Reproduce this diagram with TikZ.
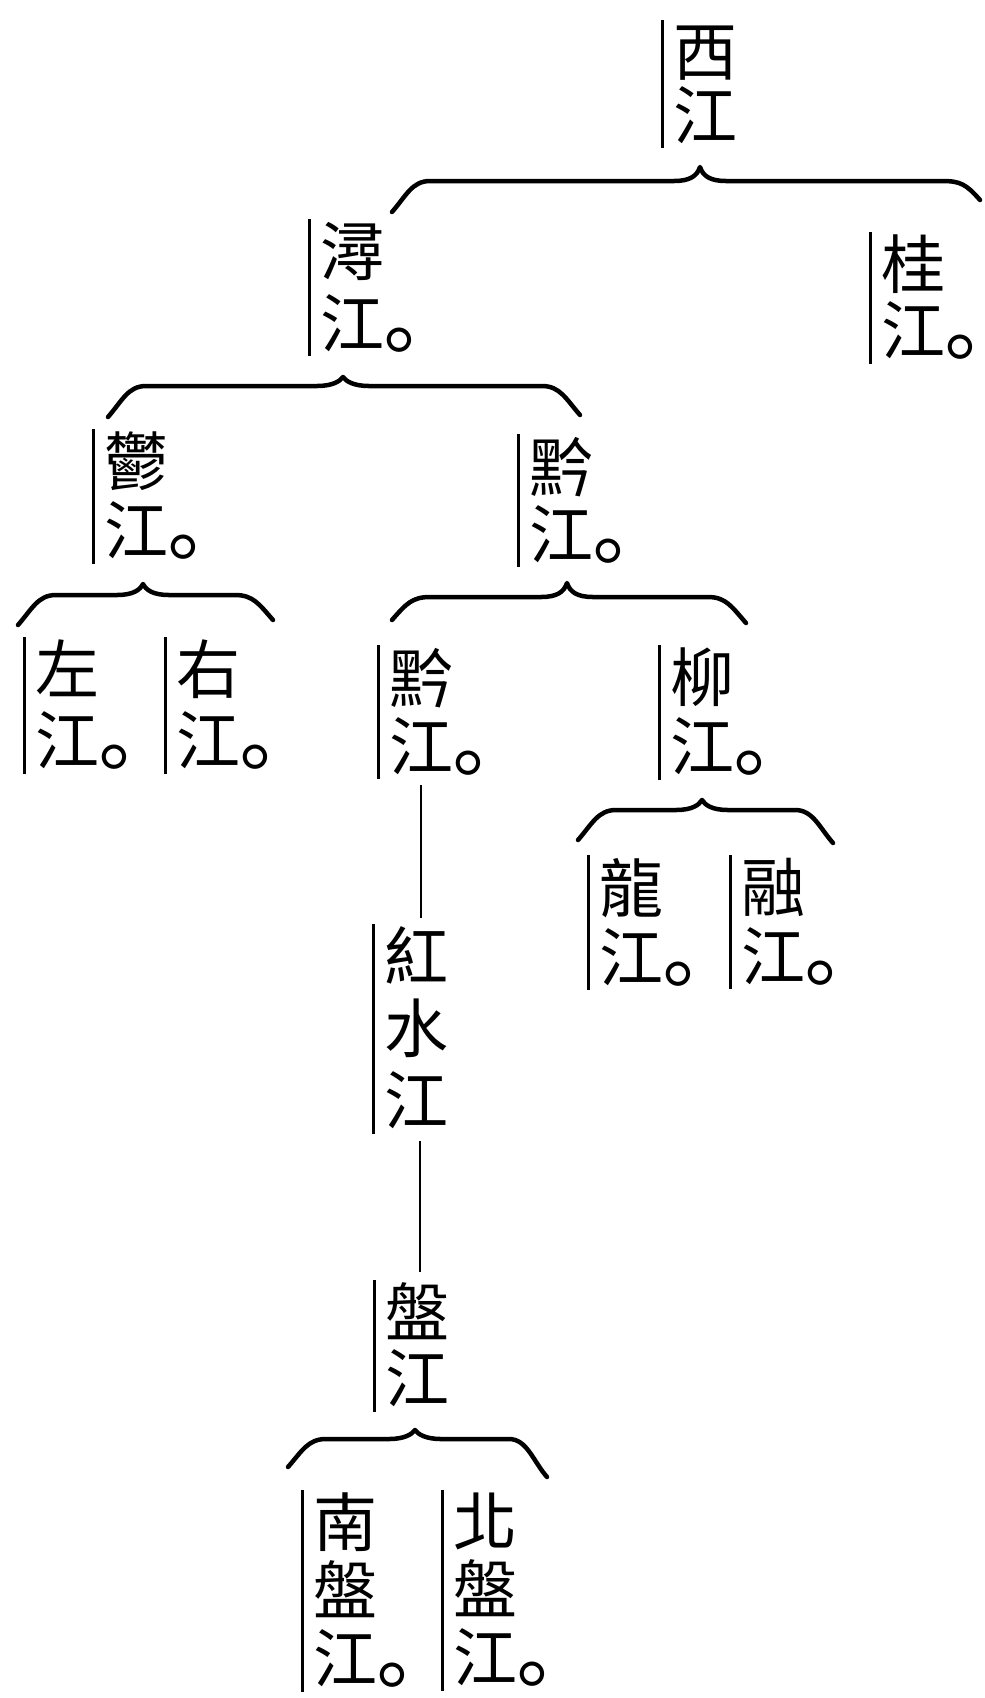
\documentclass[tikz,border=0pt]{standalone}
\usepackage{fontspec}
\newfontfamily\cjk{Noto Sans CJK TC}
\newfontfamily\cjksc{Noto Sans CJK SC}
\usetikzlibrary{calc}
\newcommand\rl[1]{\hbox{\vrule height 52pt depth 5pt width 0pt\relax #1}}
\newcommand\jd{{\cjksc\fontsize{80}{80}\selectfont ｡}}
\tikzset{
  lab/.style={anchor=north west, inner sep=0pt, outer sep=0pt, font=\cjk\fontsize{64}{70}\selectfont},
  bar/.style={line width=3pt},
  brace/.style={line width=4.5pt, line cap=round, line join=round},
  conn/.style={line width=2.8pt},
}
% name, x, top, skip, lines
\newcommand\lbl[5]{%
  \node[lab] (#1) at (#2,#3) {\vtop{\baselineskip=#4pt #5}};
  \draw[bar] ($(#1.north west)+(-11,-3)$) -- ($(#1.south west)+(-11,4)$);
}
% xL yL xc yc xR yR h
\newcommand\brc[7]{%
  \draw[brace] (#1,#2) .. controls (#1+14,#2-16) and (#1+20,#7) .. (#1+38,#7)
    -- (#3-26,#7) .. controls (#3-10,#7) and (#3-3,#7-5) .. (#3,#4)
    .. controls (#3+3,#7-5) and (#3+10,#7) .. (#3+26,#7)
    -- (#5-38,#7) .. controls (#5-20,#7) and (#5-14,#6-16) .. (#5,#6);
}
\begin{document}
\begin{tikzpicture}[x=1pt,y=-1pt]
\useasboundingbox[fill=white] (0,0) rectangle (985,1698);
% labels
\lbl{xi}{673}{23}{64}{\rl{西}\rl{江}}
\lbl{xun}{320}{222}{72}{\rl{潯}\rl{江\jd}}
\lbl{gui}{881}{235}{66}{\rl{桂}\rl{江\jd}}
\lbl{yu}{104}{432}{69}{\rl{鬱}\rl{江\jd}}
\lbl{qiana}{529}{437}{67}{\rl{黔}\rl{江\jd}}
\lbl{zuo}{35}{640}{71}{\rl{左}\rl{江\jd}}
\lbl{you}{176}{640}{71}{\rl{右}\rl{江\jd}}
\lbl{qianb}{389}{648}{68}{\rl{黔}\rl{江\jd}}
\lbl{liu}{670}{648}{69}{\rl{柳}\rl{江\jd}}
\lbl{long}{599}{858}{69}{\rl{龍}\rl{江\jd}}
\lbl{rong}{741}{858}{69}{\rl{融}\rl{江\jd}}
\lbl{hong}{384}{927}{72}{\rl{紅}\rl{水}\rl{江}}
\lbl{pan}{385}{1283}{66}{\rl{盤}\rl{江}}
\lbl{nan}{313}{1493}{68}{\rl{南}\rl{盤}\rl{江\jd}}
\lbl{bei}{453}{1493}{68}{\rl{北}\rl{盤}\rl{江\jd}}
% braces
\brc{392}{212}{700}{167}{980}{200}{181}
\brc{108}{417}{343}{377}{580}{415}{386}
\brc{18}{625}{143}{584}{273}{620}{595}
\brc{392}{620}{567}{583}{746}{623}{597}
\brc{578}{840}{702}{800}{833}{843}{810}
\brc{288}{1467}{415}{1430}{547}{1477}{1439}
% connectors
\draw[conn] ($(qianb.south west)+(32,10)$) -- ($(hong.north west)+(37,-9)$);
\draw[conn] ($(hong.south west)+(36,11)$) -- ($(pan.north west)+(35,-11)$);
\end{tikzpicture}
\end{document}
